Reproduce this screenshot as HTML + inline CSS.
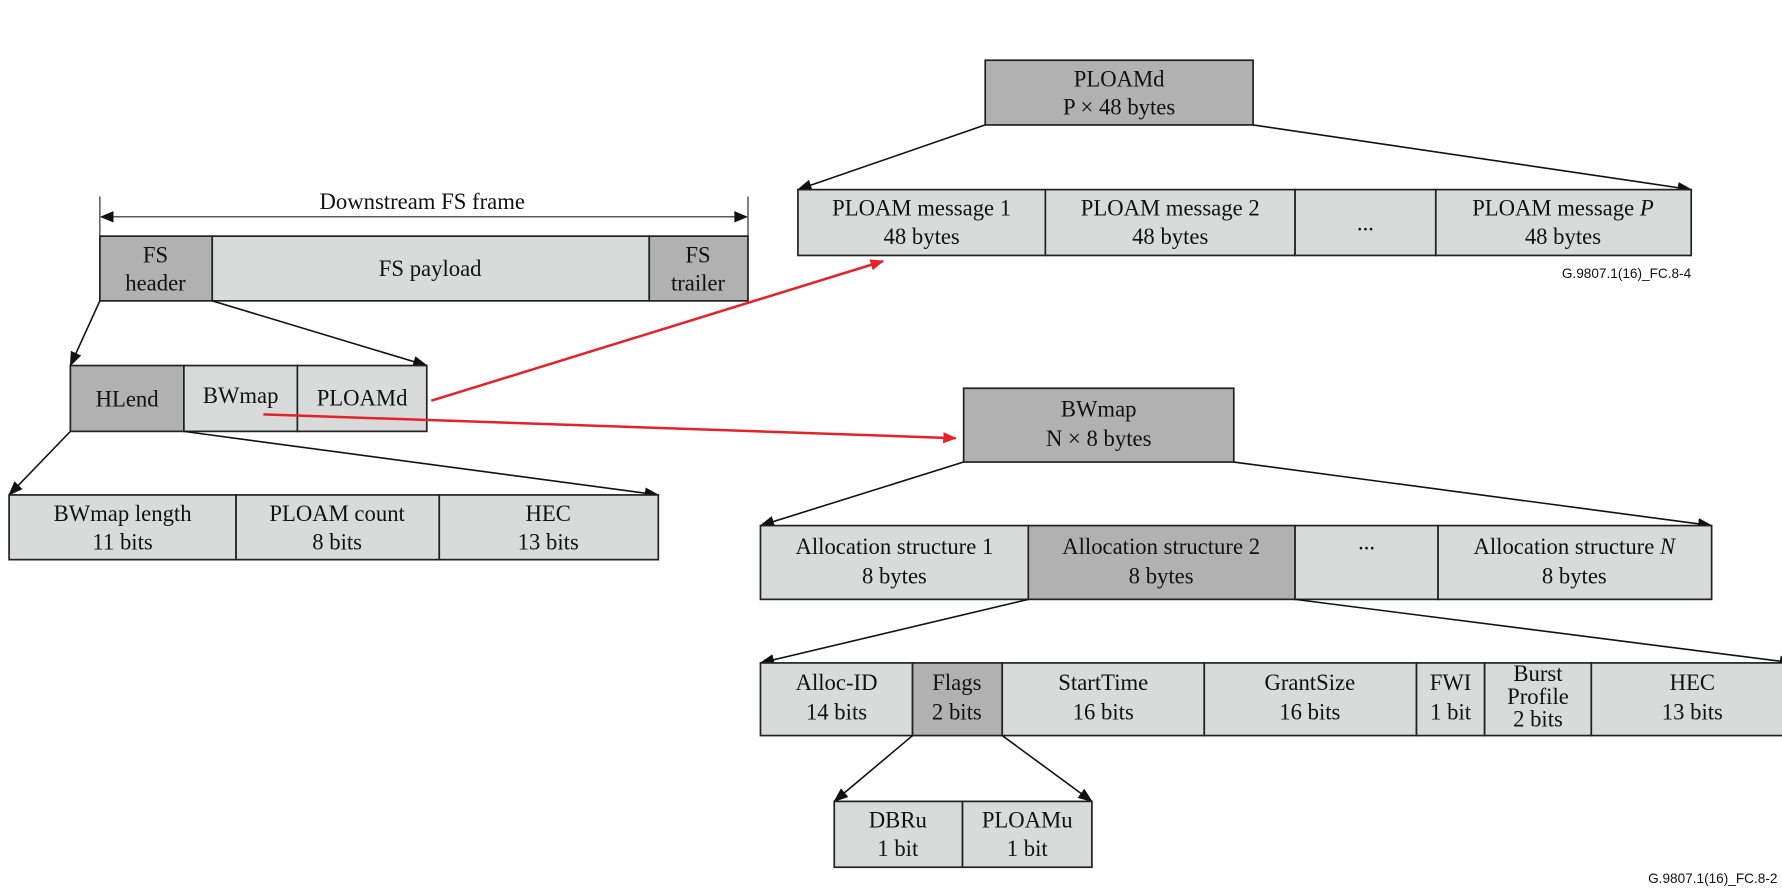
<!DOCTYPE html>
<html><head><meta charset="utf-8"><style>
html,body{margin:0;padding:0;background:#fff}
svg{display:block}
text{font-family:"Liberation Serif",serif;font-size:20px;fill:#111;text-anchor:middle}
.l{fill:#d9dbda;stroke:#222;stroke-width:1.5}
.d{fill:#b0b1b0;stroke:#222;stroke-width:1.5}
.a{stroke:#111;stroke-width:1.4;fill:none;marker-end:url(#ah)}
.r{stroke:#e8202a;stroke-width:2.2;fill:none}
.id{font-family:"Liberation Sans",sans-serif;font-size:12px;text-anchor:end}
</style></head><body>
<svg width="1782" height="890" viewBox="0 0 1570 784" xmlns="http://www.w3.org/2000/svg">
<defs>
<marker id="ah" markerWidth="13" markerHeight="10" refX="12" refY="5" orient="auto" markerUnits="userSpaceOnUse"><path d="M0,0 L13,5 L0,10 z" fill="#111"/></marker>
<marker id="rh" markerWidth="12" markerHeight="10" refX="11" refY="5" orient="auto" markerUnits="userSpaceOnUse"><path d="M0,0 L12,5 L0,10 z" fill="#e8202a"/></marker>
</defs>

<!-- dimension -->
<line x1="88" y1="173" x2="88" y2="265" stroke="#222" stroke-width="1"/>
<line x1="659" y1="173" x2="659" y2="265" stroke="#222" stroke-width="1"/>
<line x1="100" y1="191" x2="647" y2="191" stroke="#222" stroke-width="1"/>
<path d="M88,191 l12,-5 v10 z M659,191 l-12,-5 v10 z" fill="#111"/>
<text x="372" y="184">Downstream FS frame</text>

<!-- FS row -->
<rect class="d" x="88" y="208" width="99" height="57"/>
<rect class="l" x="187" y="208" width="385" height="57"/>
<rect class="d" x="572" y="208" width="87" height="57"/>
<text x="137" y="231">FS</text><text x="137" y="256">header</text>
<text x="379" y="243">FS payload</text>
<text x="615" y="231">FS</text><text x="615" y="256">trailer</text>

<line class="a" x1="88" y1="265" x2="62" y2="322"/>
<line class="a" x1="187" y1="265" x2="376" y2="322"/>

<!-- second row -->
<rect class="d" x="62" y="322" width="100" height="58"/>
<rect class="l" x="162" y="322" width="100" height="58"/>
<rect class="l" x="262" y="322" width="114" height="58"/>
<text x="112" y="358">HLend</text>
<text x="212" y="355">BWmap</text>
<text x="319" y="357">PLOAMd</text>

<line class="a" x1="62" y1="380" x2="8" y2="436"/>
<line class="a" x1="162" y1="380" x2="580" y2="436"/>

<!-- third row -->
<rect class="l" x="8" y="436" width="200" height="57"/>
<rect class="l" x="208" y="436" width="179" height="57"/>
<rect class="l" x="387" y="436" width="193" height="57"/>
<text x="108" y="459">BWmap length</text><text x="108" y="484">11 bits</text>
<text x="297" y="459">PLOAM count</text><text x="297" y="484">8 bits</text>
<text x="483" y="459">HEC</text><text x="483" y="484">13 bits</text>

<!-- PLOAMd top -->
<rect class="d" x="868" y="53" width="236" height="57"/>
<text x="986" y="76">PLOAMd</text><text x="986" y="101">P × 48 bytes</text>
<line class="a" x1="868" y1="110" x2="703" y2="167"/>
<line class="a" x1="1104" y1="110" x2="1490" y2="167"/>
<rect class="l" x="703" y="167" width="218" height="58"/>
<rect class="l" x="921" y="167" width="220" height="58"/>
<rect class="l" x="1141" y="167" width="124" height="58"/>
<rect class="l" x="1265" y="167" width="225" height="58"/>
<text x="812" y="190">PLOAM message 1</text><text x="812" y="215">48 bytes</text>
<text x="1031" y="190">PLOAM message 2</text><text x="1031" y="215">48 bytes</text>
<text x="1203" y="203">...</text>
<text x="1377" y="190">PLOAM message <tspan font-style="italic">P</tspan></text><text x="1377" y="215">48 bytes</text>
<text class="id" x="1490" y="245">G.9807.1(16)_FC.8-4</text>

<!-- BWmap -->
<rect class="d" x="849" y="342" width="238" height="65"/>
<text x="968" y="367">BWmap</text><text x="968" y="393">N × 8 bytes</text>
<line class="a" x1="849" y1="407" x2="670" y2="463"/>
<line class="a" x1="1087" y1="407" x2="1508" y2="463"/>
<rect class="l" x="670" y="463" width="236" height="65"/>
<rect class="d" x="906" y="463" width="235" height="65"/>
<rect class="l" x="1141" y="463" width="126" height="65"/>
<rect class="l" x="1267" y="463" width="241" height="65"/>
<text x="788" y="488">Allocation structure 1</text><text x="788" y="514">8 bytes</text>
<text x="1023" y="488">Allocation structure 2</text><text x="1023" y="514">8 bytes</text>
<text x="1204" y="484">...</text>
<text x="1387" y="488">Allocation structure <tspan font-style="italic">N</tspan></text><text x="1387" y="514">8 bytes</text>

<line class="a" x1="906" y1="528" x2="670" y2="584"/>
<line class="a" x1="1141" y1="528" x2="1580" y2="584"/>
<rect class="l" x="670" y="584" width="134" height="64"/>
<rect class="d" x="804" y="584" width="79" height="64"/>
<rect class="l" x="883" y="584" width="178" height="64"/>
<rect class="l" x="1061" y="584" width="187" height="64"/>
<rect class="l" x="1248" y="584" width="60" height="64"/>
<rect class="l" x="1308" y="584" width="94" height="64"/>
<rect class="l" x="1402" y="584" width="178" height="64"/>
<text x="737" y="608">Alloc-ID</text><text x="737" y="634">14 bits</text>
<text x="843" y="608">Flags</text><text x="843" y="634">2 bits</text>
<text x="972" y="608">StartTime</text><text x="972" y="634">16 bits</text>
<text x="1154" y="608">GrantSize</text><text x="1154" y="634">16 bits</text>
<text x="1278" y="608">FWI</text><text x="1278" y="634">1 bit</text>
<text x="1355" y="600">Burst</text><text x="1355" y="620">Profile</text><text x="1355" y="640">2 bits</text>
<text x="1491" y="608">HEC</text><text x="1491" y="634">13 bits</text>

<line class="a" x1="804" y1="648" x2="735" y2="706"/>
<line class="a" x1="883" y1="648" x2="962" y2="706"/>
<rect class="l" x="735" y="706" width="113" height="58"/>
<rect class="l" x="848" y="706" width="114" height="58"/>
<text x="791" y="729">DBRu</text><text x="791" y="754">1 bit</text>
<text x="905" y="729">PLOAMu</text><text x="905" y="754">1 bit</text>
<text class="id" x="1566" y="778">G.9807.1(16)_FC.8-2</text>

<!-- red -->
<line class="r" x1="380" y1="353" x2="778" y2="230" marker-end="url(#rh)"/>
<line class="r" x1="232" y1="365" x2="842" y2="386" marker-end="url(#rh)"/>
</svg>
</body></html>
